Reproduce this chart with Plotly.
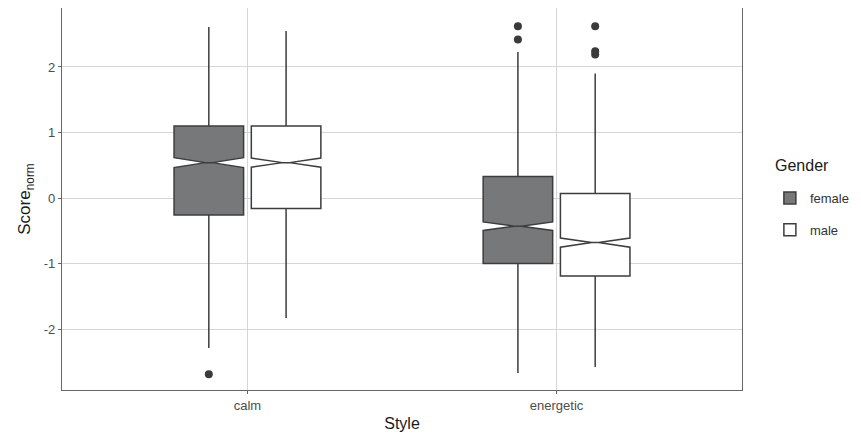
import plotly.graph_objects as go

genders = ["female", "male"]

# style order per trace (male lists energetic first so its first outlier row is non-empty)
styles = {"female": ["calm", "energetic"], "male": ["energetic", "calm"]}

# precomputed box statistics per gender, in the style order above
q1 = {"female": [-0.26, -1.00], "male": [-1.19, -0.16]}
median = {"female": [0.54, -0.43], "male": [-0.68, 0.54]}
q3 = {"female": [1.10, 0.33], "male": [0.07, 1.10]}
lowerfence = {"female": [-2.29, -2.67], "male": [-2.58, -1.83]}
upperfence = {"female": [2.61, 2.23], "male": [1.90, 2.55]}
notchspan = {"female": [0.075, 0.065], "male": [0.07, 0.07]}
outliers = {"female": [[-2.69], [2.62, 2.42]], "male": [[2.62, 2.24, 2.19], []]}

ytick_vals = [-2, -1, 0, 1, 2]
ytick_text = ["-2", "-1", "0", "1", "2"]

fills = {"female": "#77787a", "male": "#ffffff"}
line_col = "#3d3d3d"

fig = go.Figure()
for g in genders:
    fig.add_trace(go.Box(
        name=g,
        legendgroup=g,
        x=styles[g],
        y=outliers[g],
        q1=q1[g], median=median[g], q3=q3[g],
        lowerfence=lowerfence[g], upperfence=upperfence[g],
        notched=True, notchspan=notchspan[g], notchwidth=0.45,
        boxpoints="outliers", jitter=0, pointpos=0,
        fillcolor=fills[g],
        line=dict(color=line_col, width=1.5),
        marker=dict(color="#3a3a3a", size=8, line=dict(width=0)),
        whiskerwidth=0,
        hoverinfo="skip",
    ))

fig.add_annotation(
    text="Gender", xref="paper", yref="paper",
    x=1.0456, y=0.589, xanchor="left", yanchor="middle",
    showarrow=False, font=dict(size=16, color="#1a1a1a"),
)

fig.update_layout(
    width=853, height=430,
    margin=dict(l=54, r=119, t=0, b=48, autoexpand=False),
    paper_bgcolor="white", plot_bgcolor="white",
    boxmode="group", boxgap=0.5, boxgroupgap=0.1,
    font=dict(family="Liberation Sans, Arial, sans-serif", color="#4d4d4d", size=13),
    showlegend=True,
    legend=dict(
        x=1.041, xanchor="left", y=0.542, yanchor="top",
        font=dict(size=13, color="#333333"),
        tracegroupgap=12, bgcolor="rgba(0,0,0,0)",
    ),
    xaxis=dict(
        type="category", categoryorder="array", categoryarray=["calm", "energetic"],
        range=[-0.6, 1.6], automargin=False,
        showgrid=True, gridcolor="#d6d6d6", gridwidth=1,
        showline=True, linecolor="#666666", linewidth=1.2, mirror=True,
        ticks="outside", ticklen=3, tickcolor="#666666",
        tickfont=dict(size=13, color="#4d4d4d"),
        title=dict(text="Style", font=dict(size=16, color="#1a1a1a"), standoff=6),
        zeroline=False,
    ),
    yaxis=dict(
        range=[-2.93, 2.90], automargin=False,
        tickvals=ytick_vals, ticktext=ytick_text,
        showgrid=True, gridcolor="#d6d6d6", gridwidth=1,
        showline=True, linecolor="#666666", linewidth=1.2, mirror=True,
        ticks="outside", ticklen=3, tickcolor="#666666",
        tickfont=dict(size=13, color="#4d4d4d"),
        title=dict(text="Score<sub>norm</sub>", font=dict(size=17, color="#1a1a1a"), standoff=8),
        zeroline=False,
    ),
)

fig.write_html("out.html")
